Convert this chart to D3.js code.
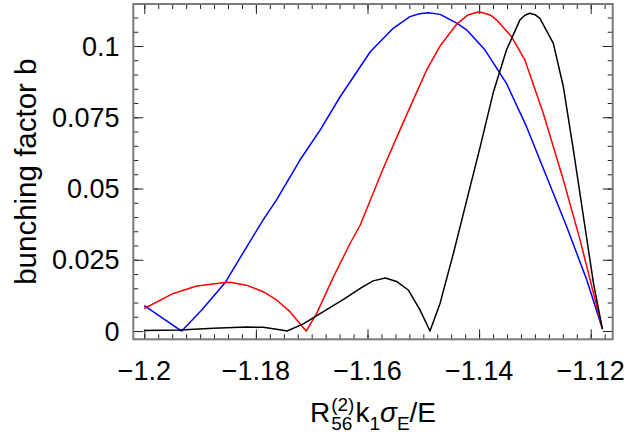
<!DOCTYPE html>
<html>
<head>
<meta charset="utf-8">
<script src="https://cdn.jsdelivr.net/npm/d3@7"></script>
<style>
  html, body { margin: 0; padding: 0; background: #fff; }
  svg { display: block; font-family: "Liberation Sans", Arial, Helvetica, sans-serif; }
</style>
</head>
<body>
<svg id="chart" width="641" height="437"></svg>
<script>
// Bunching factor b versus R56(2) k1 sigma_E / E for three settings
const blueX = [-1.2, -1.1933, -1.1897, -1.1855, -1.1820, -1.1787, -1.1763, -1.1721, -1.1685, -1.1649,
  -1.1595, -1.1554, -1.1524, -1.1507, -1.1491, -1.1470, -1.1440, -1.1422, -1.1389, -1.1351,
  -1.1315, -1.1279, -1.1243, -1.1207, -1.1179];
const blueB = [0.0089, 0.0, 0.0074, 0.0170, 0.0284, 0.0390, 0.0460, 0.0600, 0.0705, 0.0822,
  0.0980, 0.1062, 0.1103, 0.1113, 0.1117, 0.1111, 0.1080, 0.1056, 0.0985, 0.0869,
  0.0717, 0.0541, 0.0366, 0.0179, 0.0007];

const redX = [-1.2, -1.1948, -1.1906, -1.1855, -1.1846, -1.1817, -1.1787, -1.1763, -1.1739, -1.1710,
  -1.1691, -1.1661, -1.1631, -1.1613, -1.1573, -1.1542, -1.1518, -1.1494, -1.1470, -1.1440,
  -1.1420, -1.1400, -1.1380, -1.1368, -1.1342, -1.1318, -1.1285, -1.1249, -1.1219, -1.1192, -1.1179];
const redB = [0.0079, 0.0132, 0.0158, 0.0170, 0.0171, 0.0161, 0.0138, 0.0109, 0.0068, 0.0,
  0.0062, 0.0190, 0.0308, 0.0372, 0.0565, 0.0705, 0.0811, 0.0916, 0.1000, 0.1077,
  0.1109, 0.1120, 0.1109, 0.1090, 0.1033, 0.0951, 0.0764, 0.0530, 0.0319, 0.0109, 0.0007];

const blackX = [-1.2, -1.1936, -1.1876, -1.1817, -1.1787, -1.1763, -1.1744, -1.1715, -1.1679, -1.1643,
  -1.1613, -1.1590, -1.1568, -1.1548, -1.1527, -1.1506, -1.1488, -1.1470, -1.1446, -1.1422,
  -1.1398, -1.1375, -1.1351, -1.1327, -1.1318, -1.1309, -1.1300, -1.1291, -1.1267, -1.1249,
  -1.1231, -1.1213, -1.1195, -1.1179];
const blackB = [0.0002, 0.0004, 0.0010, 0.0014, 0.0013, 0.0006, 0.0, 0.0025, 0.0068, 0.0111,
  0.0150, 0.0176, 0.0186, 0.0174, 0.0144, 0.0074, 0.0, 0.0097, 0.0273, 0.0460,
  0.0647, 0.0834, 0.0986, 0.1091, 0.1108, 0.1115, 0.1110, 0.1097, 0.1009, 0.0857,
  0.0635, 0.0401, 0.0167, 0.0007];

const xTicks = [-1.2, -1.18, -1.16, -1.14, -1.12];
const xTickLabels = ["\u22121.2", "\u22121.18", "\u22121.16", "\u22121.14", "\u22121.12"];
const yTicks = [0, 0.025, 0.05, 0.075, 0.1];
const yTickLabels = ["0", "0.025", "0.05", "0.075", "0.1"];

const series = [
  { x: blueX, y: blueB, color: "#0000ff" },
  { x: redX, y: redB, color: "#ff0000" },
  { x: blackX, y: blackB, color: "#000000" }
];

const svg = d3.select("#chart");
const plotLeft = 133.3, plotRight = 612.7, plotTop = 4, plotBottom = 339.3;

const x = d3.scaleLinear().domain([-1.20197, -1.11606]).range([plotLeft, plotRight]);
const y = d3.scaleLinear().domain([-0.0029, 0.11474]).range([plotBottom, plotTop]);

const xMinor = d3.range(-1.2, -1.1161, 0.0025);
const yMinor = d3.range(0, 0.1147, 0.005);

// inward ticks on all four sides
function tickAxis(axisFn, scale, values, size, transform) {
  const g = svg.append("g").attr("transform", transform)
    .call(axisFn(scale).tickValues(values).tickSize(-size).tickFormat(""));
  g.select(".domain").remove();
  g.selectAll(".tick line").attr("stroke", "#222").attr("stroke-width", 1);
  return g;
}
tickAxis(d3.axisBottom, x, xMinor, 5, `translate(0,${plotBottom})`);
tickAxis(d3.axisBottom, x, xTicks, 10, `translate(0,${plotBottom})`);
tickAxis(d3.axisTop, x, xMinor, 5, `translate(0,${plotTop})`);
tickAxis(d3.axisTop, x, xTicks, 10, `translate(0,${plotTop})`);
tickAxis(d3.axisLeft, y, yMinor, 5, `translate(${plotLeft},0)`);
tickAxis(d3.axisLeft, y, yTicks, 10, `translate(${plotLeft},0)`);
tickAxis(d3.axisRight, y, yMinor, 5, `translate(${plotRight},0)`);
tickAxis(d3.axisRight, y, yTicks, 10, `translate(${plotRight},0)`);

// frame
svg.append("rect")
  .attr("x", plotLeft).attr("y", plotTop)
  .attr("width", plotRight - plotLeft).attr("height", plotBottom - plotTop)
  .attr("fill", "none").attr("stroke", "#7a7a7a").attr("stroke-width", 2);

// curves
const line = d3.line().x(d => x(d[0])).y(d => y(d[1]));
svg.append("g").selectAll("path").data(series).join("path")
  .attr("d", s => line(s.x.map((v, i) => [v, s.y[i]])))
  .attr("fill", "none")
  .attr("stroke", s => s.color)
  .attr("stroke-width", 1.5)
  .attr("stroke-linejoin", "round");

// tick labels
svg.append("g").selectAll("text").data(xTicks).join("text")
  .attr("x", d => x(d)).attr("y", 380)
  .attr("text-anchor", "middle")
  .attr("font-size", 27)
  .text((d, i) => xTickLabels[i]);

svg.append("g").selectAll("text").data(yTicks).join("text")
  .attr("x", 119.5).attr("y", d => y(d))
  .attr("dy", "0.36em")
  .attr("text-anchor", "end")
  .attr("font-size", 27)
  .text((d, i) => yTickLabels[i]);

// y title
svg.append("text")
  .attr("transform", `translate(36,${(plotTop + plotBottom) / 2}) rotate(-90)`)
  .attr("text-anchor", "middle")
  .attr("font-size", 29.5)
  .text("bunching factor b");

// x title: R with stacked super/subscript, k1, sigma_E / E
const big = 28, small = 19;
const base = 421.7;
const title = svg.append("g");
let cursor = 0;
function piece(txt, size, dy, style) {
  return title.append("text")
    .attr("x", cursor).attr("y", base + dy)
    .attr("font-size", size)
    .attr("font-style", style || "normal")
    .text(txt);
}
let t = piece("R", big, 0);
cursor += t.node().getComputedTextLength() + 1;
const sup = piece("(2)", small, -11);
const sub = piece("56", small, 8);
cursor += Math.max(sup.node().getComputedTextLength(), sub.node().getComputedTextLength()) + 1;
t = piece("k", big, 0);
cursor += t.node().getComputedTextLength();
t = piece("1", small, 8);
cursor += t.node().getComputedTextLength();
t = piece("\u03c3", big, 0, "italic");
cursor += t.node().getComputedTextLength();
t = piece("E", small, 8);
cursor += t.node().getComputedTextLength();
t = piece("/E", big, 0);
cursor += t.node().getComputedTextLength();
title.attr("transform", `translate(${(plotLeft + plotRight) / 2 - cursor / 2},0)`);
</script>
</body>
</html>
